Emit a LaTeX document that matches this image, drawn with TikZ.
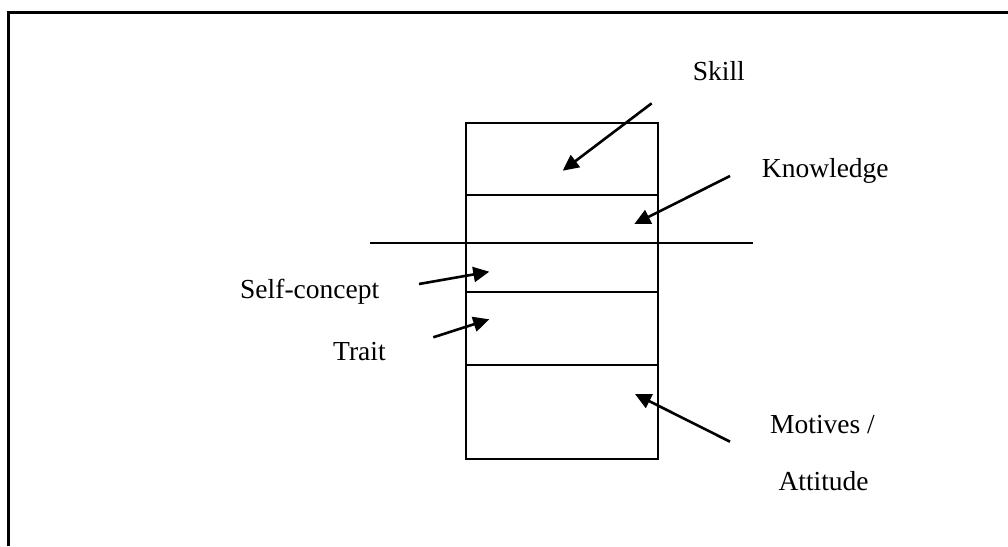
\documentclass[tikz,border=0pt]{standalone}
\usepackage{fontspec}
\setmainfont{Liberation Serif}
\usetikzlibrary{arrows.meta}
\begin{document}
\begin{tikzpicture}[x=1pt,y=-1pt,
  lbl/.style={inner sep=0pt,anchor=base west,font=\fontsize{27.5}{27.5}\selectfont},
  boxline/.style={line width=2pt},
  pointer/.style={line width=2.6pt,-{Triangle[length=16pt,width=15pt]}}]
\useasboundingbox (0,0) rectangle (1008,546);
% outer frame (open at right and bottom)
\draw[line width=2.6pt] (8.5,546) -- (8.5,12.5) -- (1008,12.5);
% stacked box
\draw[boxline] (466,122.7) rectangle (658.3,459);
\draw[boxline] (466,195) -- (658.3,195);
\draw[boxline] (466,291.7) -- (658.3,291.7);
\draw[boxline] (466,364.7) -- (658.3,364.7);
% long horizontal line
\draw[boxline] (370,243.3) -- (753,243.3);
% labels
\node[lbl] (skill) at (692.7,80.7) {Skill};
\node[lbl] (know) at (761.7,177.3) {Knowledge};
\node[lbl] (self) at (240,298) {Self-concept};
\node[lbl] (trait) at (333,360) {Trait};
\node[lbl] (mot) at (770,433.3) {Motives /};
\node[lbl] (att) at (778.3,490) {Attitude};
% arrow start / end points
\coordinate (s1) at (651.7,103.3); \coordinate (t1) at (562.7,170.7);
\coordinate (s2) at (730,176);     \coordinate (t2) at (634.3,224);
\coordinate (s3) at (419,284);     \coordinate (t3) at (489.3,271.7);
\coordinate (s4) at (433.3,337.3); \coordinate (t4) at (489.3,319.3);
\coordinate (s5) at (730,441.7);   \coordinate (t5) at (635,394);
\draw[pointer] (s1) -- (t1);
\draw[pointer] (s2) -- (t2);
\draw[pointer] (s3) -- (t3);
\draw[pointer] (s4) -- (t4);
\draw[pointer] (s5) -- (t5);
\end{tikzpicture}
\end{document}
